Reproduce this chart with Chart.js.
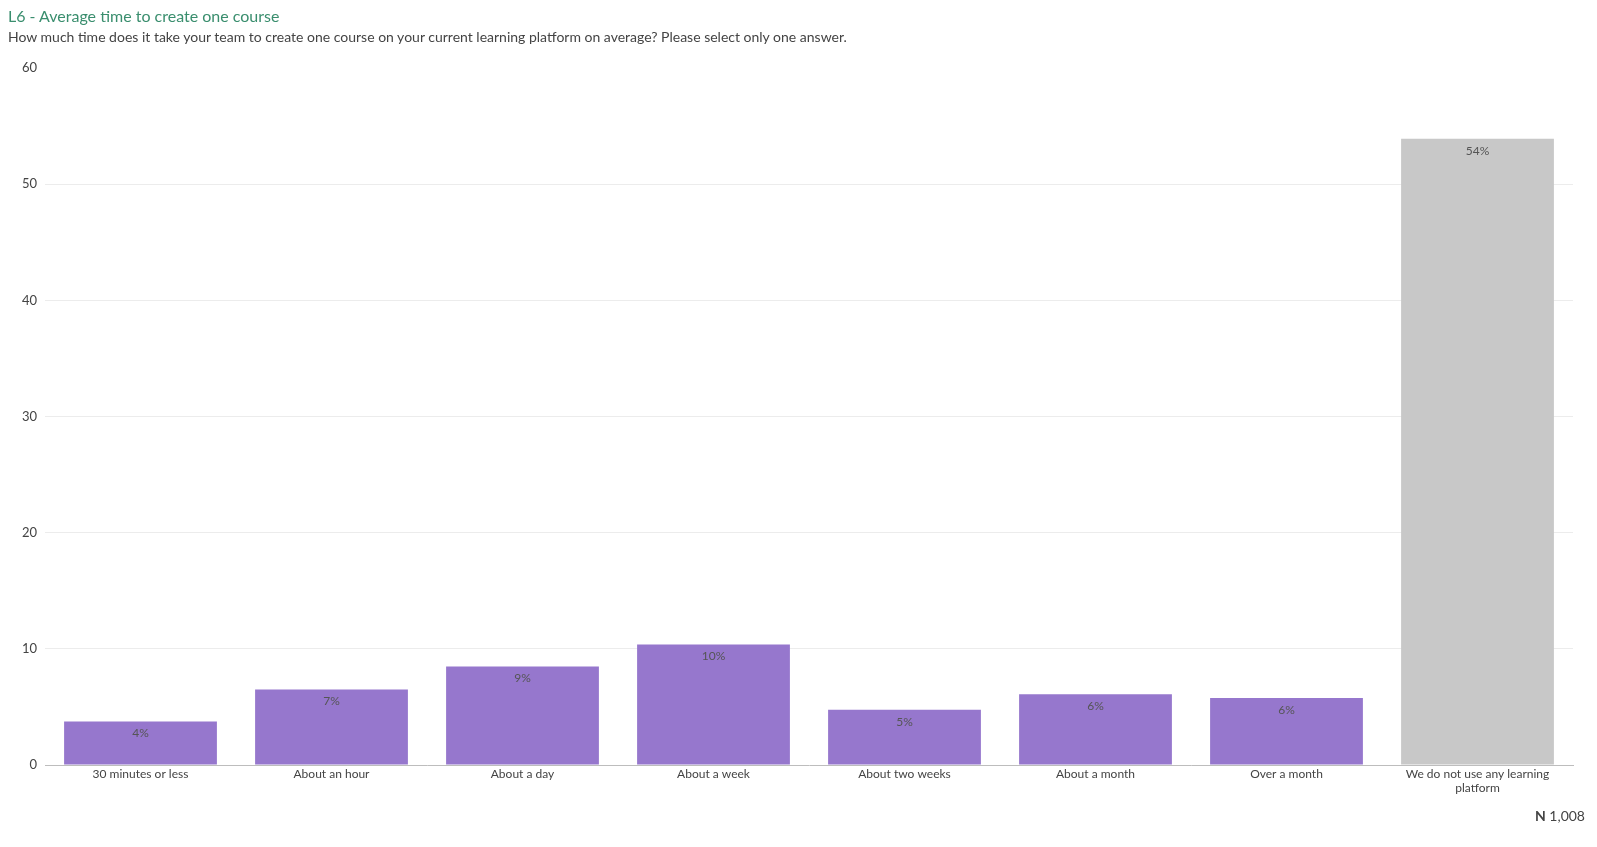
<!DOCTYPE html>
<html>
<head>
<meta charset="utf-8">
<script src="https://cdn.jsdelivr.net/npm/chart.js@4/dist/chart.umd.min.js"></script>
<style>
  html, body { margin:0; padding:0; background:#fff; }
  body { width:1597px; height:847px; position:relative; overflow:hidden; font-family: Lato, "Open Sans", sans-serif; }
  #title { position:absolute; left:8px; top:6px; font-size:16px; color:#3a8e6e; white-space:nowrap; }
  #subtitle { position:absolute; left:8px; top:28px; font-size:14px; color:#444; white-space:nowrap; }
  #n { position:absolute; right:12px; top:807px; font-size:14px; color:#444; white-space:nowrap; }
  #wrap { position:absolute; left:0; top:0; width:1597px; height:847px; }
</style>
</head>
<body>
<div id="wrap"><canvas id="c" width="1597" height="847"></canvas></div>
<div id="title">L6 - Average time to create one course</div>
<div id="subtitle">How much time does it take your team to create one course on your current learning platform on average? Please select only one answer.</div>
<div id="n"><b>N</b> 1,008</div>
<script>
const categories = [
  "30 minutes or less",
  "About an hour",
  "About a day",
  "About a week",
  "About two weeks",
  "About a month",
  "Over a month",
  ["We do not use any learning", "platform"]
];
const values = [3.75, 6.5, 8.48, 10.37, 4.76, 6.1, 5.76, 53.9];
const valueLabels = ["4%", "7%", "9%", "10%", "5%", "6%", "6%", "54%"];
const barColors = ["#9677cd", "#9677cd", "#9677cd", "#9677cd", "#9677cd", "#9677cd", "#9677cd", "#c8c8c8"];
const yTicks = [0, 10, 20, 30, 40, 50, 60];

const labelPlugin = {
  id: 'valueLabels',
  afterDatasetsDraw(chart) {
    const ctx = chart.ctx;
    const meta = chart.getDatasetMeta(0);
    ctx.save();
    ctx.font = '12px Lato, "Open Sans", sans-serif';
    ctx.fillStyle = '#555';
    ctx.textAlign = 'center';
    ctx.textBaseline = 'middle';
    meta.data.forEach((bar, i) => {
      ctx.fillText(valueLabels[i], bar.x, bar.y + 12);
    });
    ctx.restore();
  }
};

new Chart(document.getElementById('c'), {
  type: 'bar',
  data: {
    labels: categories,
    datasets: [{
      data: values,
      backgroundColor: barColors,
      borderWidth: 0,
      barPercentage: 0.8,
      categoryPercentage: 1.0
    }]
  },
  options: {
    responsive: false,
    animation: false,
    devicePixelRatio: 1,
    layout: { padding: { top: 68, right: 24, bottom: 0, left: 0 } },
    plugins: { legend: { display: false }, tooltip: { enabled: false }, title: { display: false } },
    scales: {
      x: {
        grid: { display: false, drawTicks: false },
        border: { display: true, color: '#bdbdbd', width: 1 },
        ticks: { color: '#444', font: { size: 12, family: 'Lato, "Open Sans", sans-serif' }, padding: 2, maxRotation: 0, autoSkip: false },
        afterFit(scale) { scale.height = 82; }
      },
      y: {
        min: 0, max: 60,
        afterBuildTicks(scale) { scale.ticks = yTicks.map(v => ({ value: v })); },
        grid: {
          drawTicks: false,
          color: (c) => (c.tick && (c.tick.value === 0 || c.tick.value === 60)) ? 'rgba(0,0,0,0)' : '#ececec',
          lineWidth: 1
        },
        border: { display: false },
        ticks: { color: '#444', font: { size: 13, family: 'Lato, "Open Sans", sans-serif' }, padding: 8 },
        afterFit(scale) { scale.width = 45; }
      }
    }
  },
  plugins: [labelPlugin]
});
</script>
</body>
</html>
